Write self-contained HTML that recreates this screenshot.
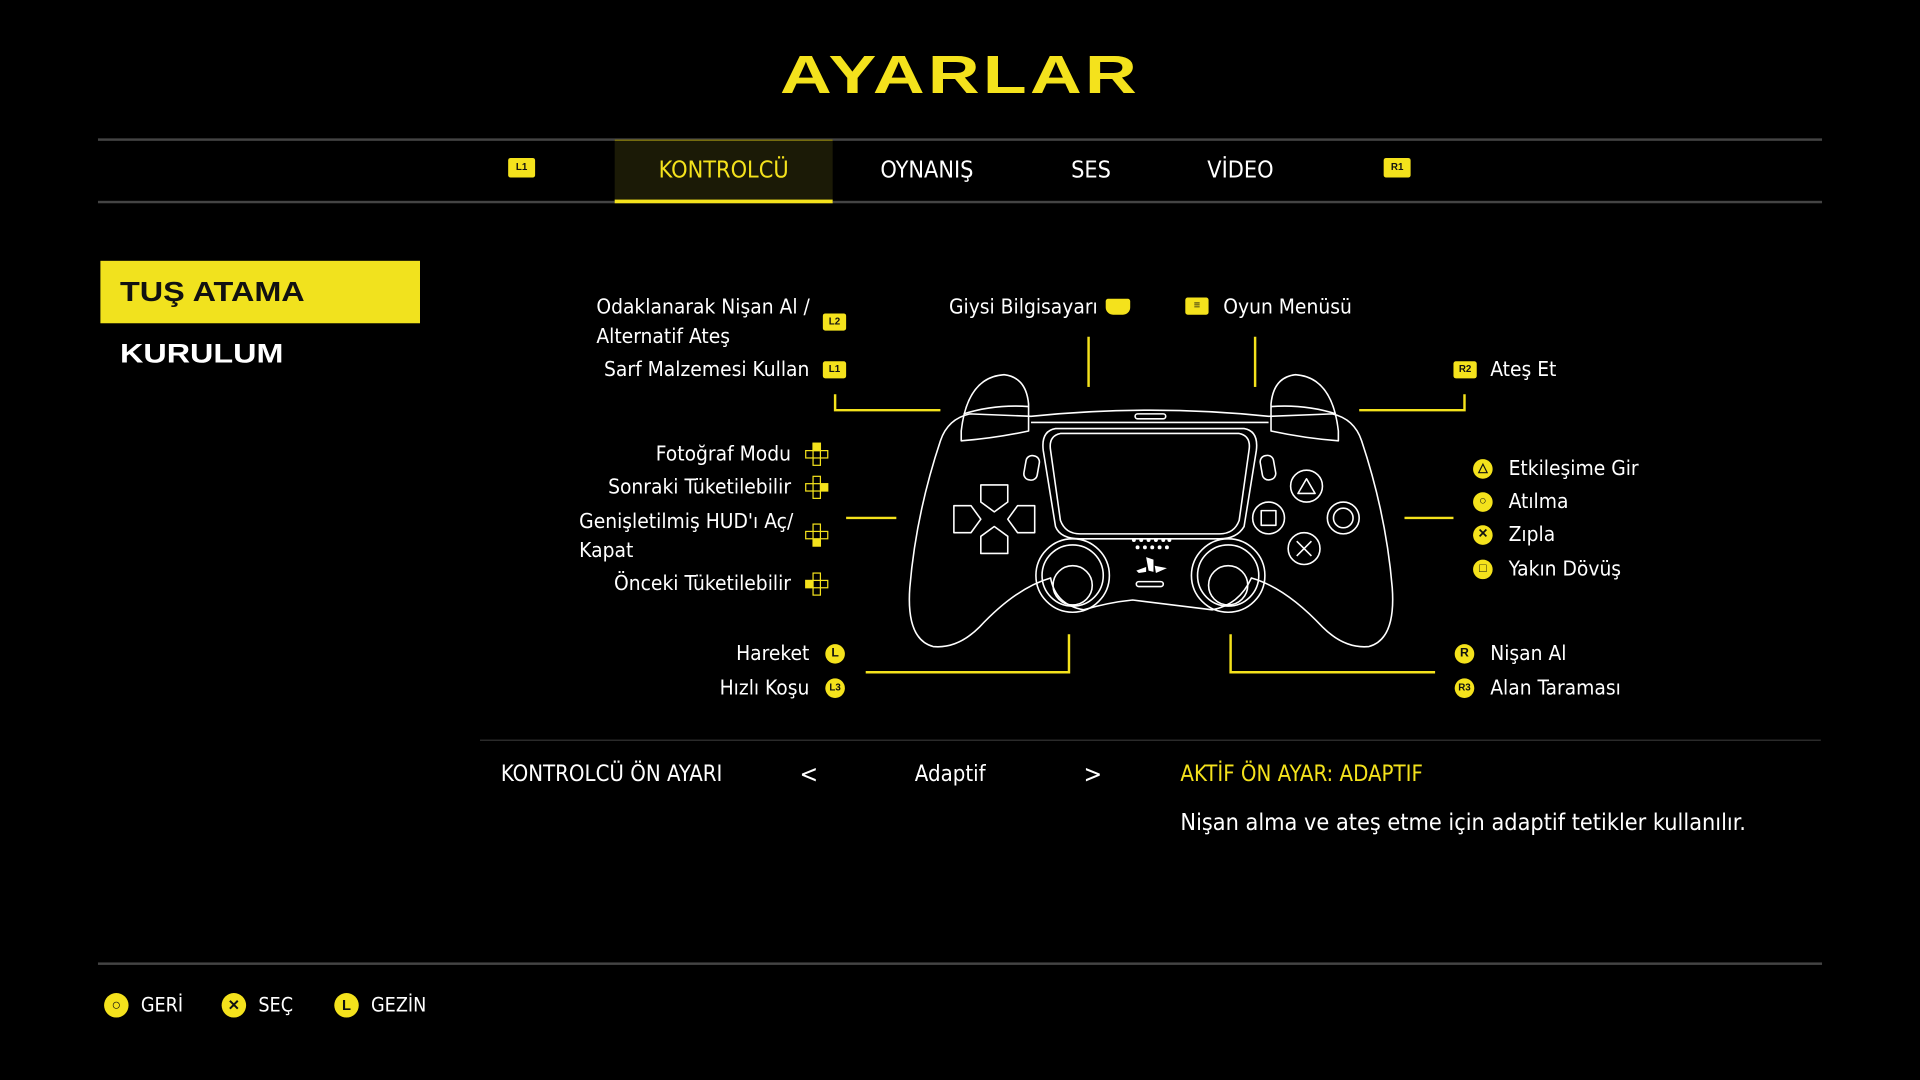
<!DOCTYPE html>
<html><head><meta charset="utf-8"><style>
html,body{margin:0;padding:0;background:#000;width:1920px;height:1080px;overflow:hidden}
#w{position:absolute;left:0;top:0;width:1568px;height:882px;transform:scale(1.22449);transform-origin:0 0;font-family:"Liberation Sans Narrow","DejaVu Sans Condensed","Liberation Sans",sans-serif;color:#fff}
.t{position:absolute;white-space:nowrap;font-size:17px;line-height:20px}
.r{text-align:right}
.y{color:#f4e21c}
.bd{position:absolute;background:#f4e21c;color:#111;font-size:8px;font-weight:bold;text-align:center;border-radius:2px;font-family:"Liberation Sans",sans-serif}
.ci{position:absolute;width:16px;height:16px;border-radius:50%;background:#f4e21c;color:#111;font-size:10px;font-weight:bold;text-align:center;line-height:16px;font-family:"Liberation Sans",sans-serif}
</style></head><body><div id="w">
<div style="position:absolute;left:632px;top:36px;width:304px;text-align:center;color:#f4e21c;font-family:'Liberation Sans',sans-serif;font-weight:bold;font-size:44px;letter-spacing:2px;line-height:52px;transform:scaleX(1.33)">AYARLAR</div>
<div style="position:absolute;left:80px;top:113px;width:1408px;height:2px;background:#444"></div>
<div style="position:absolute;left:80px;top:164px;width:1408px;height:2px;background:#444"></div>
<div style="position:absolute;left:502px;top:114px;width:178px;height:50px;background:#1b1a06;border-top:1px solid #8a7e10"></div>
<div style="position:absolute;left:502px;top:163px;width:178px;height:3px;background:#f4e21c"></div>
<div class="bd" style="left:415px;top:129px;width:22px;height:16px;line-height:16px">L1</div>
<div class="bd" style="left:1130px;top:129px;width:22px;height:16px;line-height:16px">R1</div>
<div class="t y" style="left:502px;width:178px;text-align:center;top:129px;font-size:19px">KONTROLCÜ</div>
<div class="t" style="left:700px;width:114px;text-align:center;top:129px;font-size:19px">OYNANIŞ</div>
<div class="t" style="left:851px;width:80px;text-align:center;top:129px;font-size:19px">SES</div>
<div class="t" style="left:973px;width:80px;text-align:center;top:129px;font-size:19px">VİDEO</div>
<div style="position:absolute;left:82px;top:213px;width:261px;height:51px;background:#f1e21e"></div>
<div style="position:absolute;left:98px;top:224px;color:#111;font-family:'Liberation Sans',sans-serif;font-weight:bold;font-size:23px;line-height:28px;transform:scaleX(1.15);transform-origin:0 0">TUŞ ATAMA</div>
<div style="position:absolute;left:98px;top:275px;color:#fff;font-family:'Liberation Sans',sans-serif;font-weight:bold;font-size:22px;line-height:28px;transform:scaleX(1.2);transform-origin:0 0">KURULUM</div>

<div class="t" style="left:487px;top:241px">Odaklanarak Nişan Al /</div>
<div class="t" style="left:487px;top:265px">Alternatif Ateş</div>
<div class="bd" style="left:672px;top:256px;width:19px;height:14px;line-height:14px">L2</div>
<div class="t r" style="right:907px;top:292px">Sarf Malzemesi Kullan</div>
<div class="bd" style="left:672px;top:295px;width:19px;height:14px;line-height:14px">L1</div>
<div class="t" style="left:775px;top:241px">Giysi Bilgisayarı</div>
<div class="bd" style="left:903px;top:244px;width:20px;height:13px;border-radius:2px 2px 6px 6px"></div>
<div class="bd" style="left:968px;top:243px;width:19px;height:14px;line-height:12px;font-size:9px">≡</div>
<div class="t" style="left:999px;top:241px">Oyun Menüsü</div>
<div class="bd" style="left:1187px;top:295px;width:19px;height:14px;line-height:14px">R2</div>
<div class="t" style="left:1217px;top:292px">Ateş Et</div>

<div class="t r" style="right:922px;top:361px">Fotoğraf Modu</div>
<div class="t r" style="right:922px;top:388px">Sonraki Tüketilebilir</div>
<div class="t" style="left:473px;top:416px">Genişletilmiş HUD'ı Aç/</div>
<div class="t" style="left:473px;top:440px">Kapat</div>
<div class="t r" style="right:922px;top:467px">Önceki Tüketilebilir</div>
<svg style="position:absolute;left:0;top:0" width="1568" height="882">
<g fill="none" stroke="#f4e21c" stroke-width="1">
 <g transform="translate(667,371)"><rect x="-3" y="-9" width="6" height="6"/><rect x="-3" y="3" width="6" height="6"/><rect x="-9" y="-3" width="6" height="6"/><rect x="3" y="-3" width="6" height="6"/><rect x="-3" y="-9" width="6" height="6" fill="#f4e21c"/></g>
 <g transform="translate(667,398)"><rect x="-3" y="-9" width="6" height="6"/><rect x="-3" y="3" width="6" height="6"/><rect x="-9" y="-3" width="6" height="6"/><rect x="3" y="-3" width="6" height="6" fill="#f4e21c"/></g>
 <g transform="translate(667,437)"><rect x="-3" y="-9" width="6" height="6"/><rect x="-3" y="3" width="6" height="6" fill="#f4e21c"/><rect x="-9" y="-3" width="6" height="6"/><rect x="3" y="-3" width="6" height="6"/></g>
 <g transform="translate(667,477)"><rect x="-3" y="-9" width="6" height="6"/><rect x="-3" y="3" width="6" height="6"/><rect x="-9" y="-3" width="6" height="6" fill="#f4e21c"/><rect x="3" y="-3" width="6" height="6"/></g>
</g>
<g stroke="#f4e21c" stroke-width="2" fill="none">
 <polyline points="682,322 682,335 768,335"/>
 <line x1="889" y1="275" x2="889" y2="316"/>
 <line x1="1025" y1="275" x2="1025" y2="316"/>
 <polyline points="1110,335 1196,335 1196,322"/>
 <line x1="691" y1="423" x2="732" y2="423"/>
 <line x1="1147" y1="423" x2="1187" y2="423"/>
 <polyline points="873,518 873,549 707,549"/>
 <polyline points="1005,518 1005,549 1172,549"/>
</g>
<g fill="none" stroke="#fff" stroke-width="1.3" stroke-linejoin="round">
 <path d="M842,340 Q940,330 1036,340 L1088,338 Q1106,342 1112,360 Q1132,420 1137,480 Q1140,522 1118,528 Q1098,530 1080,512 Q1050,480 1022,472 Q1012,494 990,498 L925,490 Q905,492 885,498 Q862,494 858,472 Q830,480 800,512 Q782,530 762,528 Q740,522 743,480 Q748,420 768,360 Q774,342 792,338 Z"/>
 <path d="M785,352 Q790,308 820,306 Q838,308 840,330 L840,352 Q812,358 785,360 Z"/>
 <path d="M787,338 Q812,330 840,332"/>
 <path d="M1093,352 Q1088,308 1058,306 Q1040,308 1038,330 L1038,352 Q1066,358 1093,360 Z"/>
 <path d="M1091,338 Q1066,330 1038,332"/>
 <path d="M842,345 L1036,345"/>
 <rect x="927" y="338" width="25" height="4" rx="2"/>
 <path d="M866,354 L1012,354 Q1022,356 1020,368 L1012,425 Q1008,436 996,436 L882,436 Q870,436 866,425 L858,368 Q856,356 866,354 Z"/>
 <path d="M862,350 L1016,350 Q1028,352 1026,368 L1016,430 Q1010,440 996,440 L882,440 Q866,440 862,430 L852,368 Q850,352 862,350 Z"/>
 <rect x="837" y="372" width="11" height="20" rx="5" transform="rotate(10 842 382)"/>
 <rect x="1030" y="372" width="11" height="20" rx="5" transform="rotate(-10 1035 382)"/>
 <path d="M801,396 L823,396 L823,410 L812,418 L801,410 Z"/>
 <path d="M801,452 L823,452 L823,438 L812,430 L801,438 Z"/>
 <path d="M779,413 L779,435 L793,435 L801,424 L793,413 Z"/>
 <path d="M845,413 L845,435 L831,435 L823,424 L831,413 Z"/>
 <circle cx="1067" cy="397" r="13"/><path d="M1060,403 L1067,391 L1074,403 Z"/>
 <circle cx="1036" cy="423" r="13"/><rect x="1030" y="417" width="12" height="12"/>
 <circle cx="1097" cy="423" r="13"/><circle cx="1097" cy="423" r="8"/>
 <circle cx="1065" cy="448" r="13"/><path d="M1059,442 L1071,454 M1071,442 L1059,454"/>
 <circle cx="876" cy="470" r="30"/><circle cx="876" cy="470" r="25"/><circle cx="876" cy="478" r="16"/>
 <circle cx="1003" cy="470" r="30"/><circle cx="1003" cy="470" r="25"/><circle cx="1003" cy="478" r="16"/>
 <rect x="928" y="475" width="22" height="4" rx="2"/>
</g>
<g fill="#fff">
 <circle cx="926" cy="441" r="1.6"/><circle cx="932" cy="441" r="1.6"/><circle cx="938" cy="441" r="1.6"/><circle cx="944" cy="441" r="1.6"/><circle cx="950" cy="441" r="1.6"/><circle cx="955" cy="441" r="1.6"/>
 <circle cx="929" cy="447" r="1.6"/><circle cx="935" cy="447" r="1.6"/><circle cx="941" cy="447" r="1.6"/><circle cx="947" cy="447" r="1.6"/><circle cx="953" cy="447" r="1.6"/>
 <path d="M936,455 L942,457 L942,467 L938,466 Z"/><path d="M928,466 L936,463 L936,467 L930,468 Z"/><path d="M943,462 L953,464 L944,468 Z"/>
</g>
</svg>
<div class="ci" style="left:1203px;top:375px">△</div>
<div class="t" style="left:1232px;top:373px">Etkileşime Gir</div>
<div class="ci" style="left:1203px;top:402px">○</div>
<div class="t" style="left:1232px;top:400px">Atılma</div>
<div class="ci" style="left:1203px;top:429px">✕</div>
<div class="t" style="left:1232px;top:427px">Zıpla</div>
<div class="ci" style="left:1203px;top:457px">□</div>
<div class="t" style="left:1232px;top:455px">Yakın Dövüş</div>

<div class="t r" style="right:907px;top:524px">Hareket</div>
<div class="ci" style="left:674px;top:526px">L</div>
<div class="t r" style="right:907px;top:552px">Hızlı Koşu</div>
<div class="ci" style="left:674px;top:554px;font-size:8px">L3</div>
<div class="ci" style="left:1188px;top:526px">R</div>
<div class="t" style="left:1217px;top:524px">Nişan Al</div>
<div class="ci" style="left:1188px;top:554px;font-size:8px">R3</div>
<div class="t" style="left:1217px;top:552px">Alan Taraması</div>

<div style="position:absolute;left:392px;top:604px;width:1095px;height:1px;background:#333"></div>
<div class="t" style="left:409px;top:623px;font-size:18px">KONTROLCÜ ÖN AYARI</div>
<div class="t" style="left:653px;top:622px;font-size:20px">&lt;</div>
<div class="t" style="left:716px;width:120px;text-align:center;top:623px;font-size:18px">Adaptif</div>
<div class="t" style="left:885px;top:622px;font-size:20px">&gt;</div>
<div class="t y" style="left:964px;top:623px;font-size:18px">AKTİF ÖN AYAR: ADAPTIF</div>
<div class="t" style="left:964px;top:662px;font-size:19px">Nişan alma ve ateş etme için adaptif tetikler kullanılır.</div>

<div style="position:absolute;left:80px;top:786px;width:1408px;height:2px;background:#444"></div>
<div class="ci" style="left:85px;top:811px;width:20px;height:20px;line-height:20px;font-size:13px">○</div>
<div class="t" style="left:115px;top:811px;font-size:16px">GERİ</div>
<div class="ci" style="left:181px;top:811px;width:20px;height:20px;line-height:20px;font-size:12px">✕</div>
<div class="t" style="left:211px;top:811px;font-size:16px">SEÇ</div>
<div class="ci" style="left:273px;top:811px;width:20px;height:20px;line-height:20px;font-size:12px">L</div>
<div class="t" style="left:303px;top:811px;font-size:16px">GEZİN</div>
</div></body></html>
